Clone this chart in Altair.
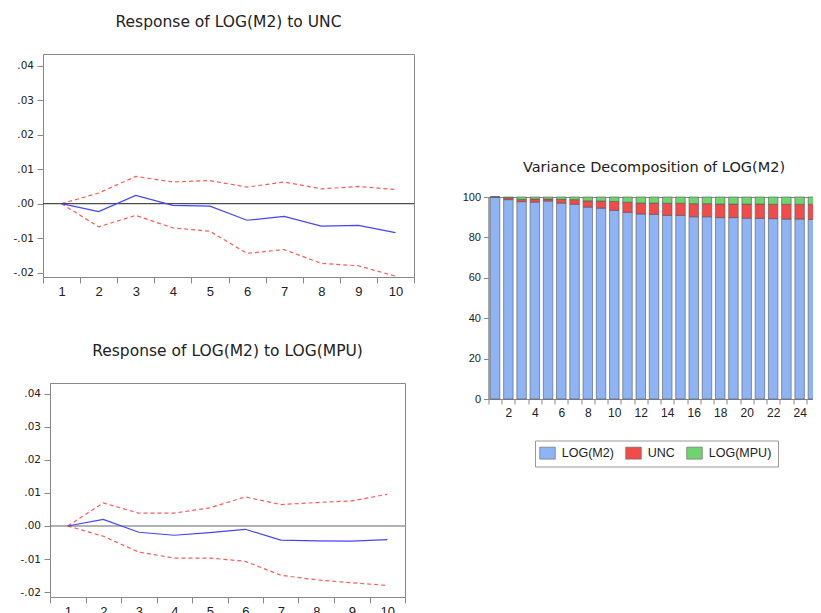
import altair as alt
import pandas as pd

# ---------------- data ----------------
periods = list(range(1, 11))

unc_resp = [0.0, -0.0023, 0.0024, -0.0005, -0.0007, -0.0048, -0.0037, -0.0065, -0.0063, -0.0084]
unc_upper = [0.0, 0.0031, 0.0079, 0.0063, 0.0067, 0.0048, 0.0063, 0.0043, 0.0050, 0.0041]
unc_lower = [0.0, -0.0067, -0.0034, -0.0070, -0.0080, -0.0144, -0.0133, -0.0173, -0.0180, -0.0210]

mpu_resp = [0.0, 0.0020, -0.0019, -0.0028, -0.0020, -0.0010, -0.0043, -0.0045, -0.0046, -0.0041]
mpu_upper = [0.0, 0.0070, 0.0039, 0.0039, 0.0055, 0.0088, 0.0065, 0.0071, 0.0076, 0.0096]
mpu_lower = [0.0, -0.0031, -0.0079, -0.0097, -0.0097, -0.0107, -0.0149, -0.0163, -0.0172, -0.0180]

vd_periods = list(range(1, 26))
vd_m2 = [100.0, 98.7, 97.7, 97.5, 98.0, 97.0, 96.4, 95.0, 94.5, 93.4, 92.4, 91.6, 91.4,
         90.9, 90.9, 90.2, 90.2, 89.8, 89.8, 89.5, 89.4, 89.3, 89.1, 89.1, 88.9]
vd_unc = [0.0, 0.9, 1.1, 1.5, 1.0, 1.8, 2.3, 3.1, 3.5, 4.4, 5.0, 5.4, 5.6,
          6.0, 6.0, 6.5, 6.5, 6.7, 6.7, 7.0, 7.1, 7.1, 7.3, 7.3, 7.5]
vd_mpu = [0.0, 0.4, 1.2, 1.0, 1.0, 1.2, 1.3, 1.9, 2.0, 2.2, 2.6, 3.0, 3.0,
          3.1, 3.1, 3.3, 3.3, 3.5, 3.5, 3.5, 3.5, 3.6, 3.6, 3.6, 3.6]

components = ["LOG(M2)", "UNC", "LOG(MPU)"]
comp_colors = ["#8fb4f5", "#f24b4b", "#6fd46f"]

y_ticks = [-0.02, -0.01, 0.0, 0.01, 0.02, 0.03, 0.04]
vd_ticks = [0, 20, 40, 60, 80, 100]

FONT = "Liberation Sans"
TITLE_FONT = "DejaVu Sans"


def spacer(w, h):
    return (
        alt.Chart(pd.DataFrame({"v": [0]}))
        .mark_point(opacity=0)
        .encode(x=alt.X("v:Q", axis=None), y=alt.Y("v:Q", axis=None))
        .properties(width=w, height=h, view={"stroke": "transparent"})
    )


def irf_panel(title, resp, upper, lower, width, height, ydomain, zero_color):
    df_resp = pd.DataFrame({"period": periods, "value": resp})
    df_band = pd.DataFrame({
        "period": periods + periods,
        "value": upper + lower,
        "bound": ["upper"] * len(periods) + ["lower"] * len(periods),
    })
    df_zero = pd.DataFrame({"value": [0.0]})
    x = alt.X(
        "period:Q",
        scale=alt.Scale(domain=[0.5, 10.5], nice=False, zero=False),
        axis=alt.Axis(
            values=[i + 0.5 for i in range(11)],
            labelExpr="datum.value < 10 ? format(datum.value + 0.5, 'd') : ''",
            labelOffset=width / 20.0,
            labelFlush=False,
            labelOverlap=False,
            grid=False,
            title=None,
            tickSize=6,
            labelFontSize=13,
            labelPadding=2,
        ),
    )
    y = alt.Y(
        "value:Q",
        scale=alt.Scale(domain=ydomain, nice=False, zero=False),
        axis=alt.Axis(
            values=y_ticks,
            labelExpr="replace(replace(format(datum.value, '.2f'), '\u2212', '-'), '0.', '.')",
            labelOverlap=False,
            labelFlush=False,
            grid=False,
            title=None,
            tickSize=6,
            labelFont="DejaVu Sans",
            labelFontSize=10.5,
            labelPadding=3.5,
            minExtent=34,
            maxExtent=34,
        ),
    )
    zero = alt.Chart(df_zero).mark_rule(color=zero_color, strokeWidth=1).encode(y=y)
    band = alt.Chart(df_band).mark_line(
        color="#ff5a5a", strokeWidth=1.2, strokeDash=[4, 3]
    ).encode(x=x, y=y, detail="bound:N")
    line = alt.Chart(df_resp).mark_line(color="#4444ff", strokeWidth=1.2).encode(x=x, y=y)
    return alt.layer(band, zero, line).properties(
        width=width,
        height=height,
        title=alt.TitleParams(title, offset=24, fontSize=15.5),
    )


top_panel = irf_panel("Response of LOG(M2) to UNC", unc_resp, unc_upper, unc_lower,
                      371, 223, [-0.02125, 0.0434], "#222222")
bottom_panel = irf_panel("Response of LOG(M2) to LOG(MPU)", mpu_resp, mpu_upper, mpu_lower,
                         355, 214, [-0.0215, 0.0433], "#666666")

# variance decomposition
rows = []
for i, p in enumerate(vd_periods):
    rows.append({"period": p, "component": components[0], "share": vd_m2[i], "ord": 0})
    rows.append({"period": p, "component": components[1], "share": vd_unc[i], "ord": 1})
    rows.append({"period": p, "component": components[2], "share": vd_mpu[i], "ord": 2})
df_vd = pd.DataFrame(rows)

vd_width = 331
vd_chart = alt.Chart(df_vd).mark_bar(size=9.5, stroke="#555555", strokeWidth=0.6).encode(
    x=alt.X(
        "period:Q",
        scale=alt.Scale(domain=[0.5, 25.5], nice=False, zero=False, padding=0),
        axis=alt.Axis(
            values=[i + 0.5 for i in range(25)],
            labelExpr="(datum.value + 0.5) % 2 == 0 ? format(datum.value + 0.5, 'd') : ''",
            labelOffset=vd_width / 50.0,
            labelFlush=False,
            labelOverlap=False,
            grid=False,
            title=None,
            tickSize=5,
            labelFontSize=12,
            labelPadding=3,
        ),
    ),
    y=alt.Y(
        "share:Q",
        stack="zero",
        scale=alt.Scale(domain=[0, 100], nice=False),
        axis=alt.Axis(values=vd_ticks, grid=False, title=None, tickSize=5,
                      labelFontSize=11, labelPadding=3, labelFlush=False,
                      minExtent=24, maxExtent=24),
    ),
    color=alt.Color(
        "component:N",
        scale=alt.Scale(domain=components, range=comp_colors),
        sort=components,
        legend=alt.Legend(
            title=None,
            orient="none",
            direction="horizontal",
            legendX=531,
            legendY=386.5,
            strokeColor="#999999",
            padding=6,
            symbolType="M-1.3,-1H1.3V1H-1.3Z",
            symbolSize=144,
            symbolStrokeColor="#666666",
            symbolStrokeWidth=0.6,
            symbolOpacity=1,
            labelFontSize=12.5,
            labelFont=FONT,
            labelColor="#222222",
            labelOffset=7.8,
            columnPadding=10,
        ),
    ),
    order=alt.Order("ord:Q"),
).properties(
    width=vd_width,
    height=202,
    title=alt.TitleParams("Variance Decomposition of LOG(M2)", offset=16),
)

left_col = alt.vconcat(
    alt.hconcat(spacer(1, 5), top_panel, spacing=0),
    alt.hconcat(spacer(10, 5), bottom_panel, spacing=0),
    spacing=44,
)
right_col = alt.vconcat(spacer(5, 104.5), vd_chart, spacing=0)

chart = alt.hconcat(left_col, right_col, spacing=27.5).properties(
    padding={"left": -7, "top": 6, "right": -7.5, "bottom": 0}
).configure_view(
    stroke="#888888"
).configure_axis(
    labelFont=FONT,
    labelColor="#222222",
    domainColor="#888888",
    tickColor="#888888",
).configure_title(
    font=TITLE_FONT,
    fontSize=14.5,
    fontWeight="normal",
    color="#222222",
    anchor="middle",
)

chart.save("out.html", embed_options={"renderer": "svg", "actions": False})
